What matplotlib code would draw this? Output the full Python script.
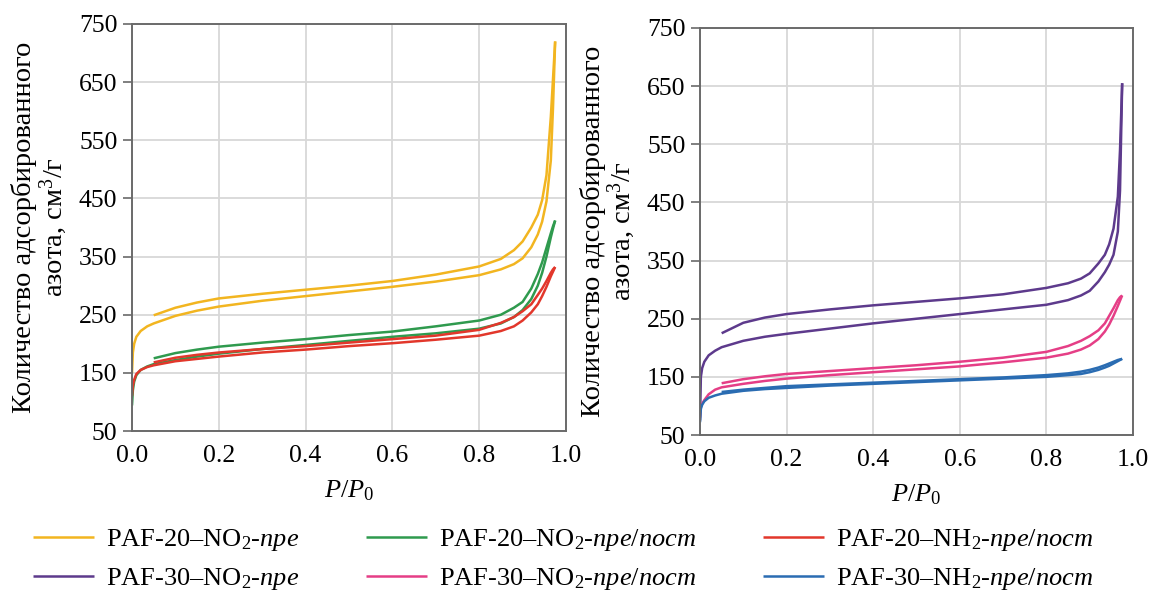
import matplotlib
matplotlib.use("Agg")
import matplotlib.pyplot as plt
import numpy as np

plt.rcParams['font.family'] = ['Liberation Serif', 'DejaVu Serif']
plt.rcParams['mathtext.fontset'] = 'custom'
plt.rcParams['mathtext.rm'] = 'Liberation Serif'
plt.rcParams['mathtext.it'] = 'Liberation Serif:italic'

# relative pressure grids (adsorption goes up, desorption comes back down)
ads_p = [0.0, 0.002, 0.005, 0.01, 0.02, 0.035, 0.05, 0.1, 0.15, 0.2, 0.3, 0.4, 0.5, 0.6,
         0.7, 0.8, 0.85, 0.88, 0.9, 0.92, 0.935, 0.945, 0.955, 0.965, 0.97, 0.975]
des_p = [0.975, 0.97, 0.965, 0.955, 0.945, 0.935, 0.92, 0.9, 0.88, 0.85, 0.8, 0.7, 0.6,
         0.5, 0.4, 0.3, 0.2, 0.15, 0.1, 0.05]

# PAF-20 panel
paf20_no2_pre_ads = [150, 185, 200, 212, 222, 230, 235, 248, 257, 264, 274, 282, 290, 298,
                     307, 318, 328, 337, 347, 366, 388, 410, 445, 515, 605, 720]
paf20_no2_pre_des = [720, 655, 590, 490, 447, 422, 400, 376, 361, 346, 333, 319, 308,
                     300, 293, 286, 278, 271, 262, 249]
paf20_no2_pp_ads = [94, 120, 135, 146, 155, 161, 165, 172, 178, 183, 191, 198, 205, 212,
                    218, 226, 235, 246, 258, 277, 300, 322, 350, 383, 398, 412]
paf20_no2_pp_des = [412, 402, 390, 365, 340, 320, 295, 272, 262, 250, 240, 230, 221,
                    215, 208, 202, 195, 190, 184, 175]
paf20_nh2_pp_ads = [110, 128, 138, 148, 155, 160, 163, 170, 174, 178, 185, 190, 196, 201,
                    207, 214, 222, 230, 240, 254, 268, 282, 298, 316, 324, 332]
paf20_nh2_pp_des = [332, 328, 322, 308, 295, 284, 268, 256, 246, 236, 224, 214, 208,
                    202, 196, 191, 185, 181, 176, 168]

# PAF-30 panel
paf30_no2_pre_ads = [75, 150, 165, 176, 187, 195, 201, 212, 219, 224, 233, 242, 250, 258,
                     266, 274, 282, 290, 298, 314, 330, 343, 360, 400, 470, 655]
paf30_no2_pre_des = [655, 540, 460, 405, 378, 360, 345, 328, 319, 311, 303, 292, 285,
                     279, 273, 266, 258, 252, 243, 225]
paf30_no2_pp_ads = [80, 98, 104, 110, 120, 128, 132, 138, 143, 147, 153, 158, 163, 168,
                    175, 183, 190, 197, 204, 215, 228, 240, 255, 272, 281, 290]
paf30_no2_pp_des = [290, 287, 282, 268, 255, 242, 230, 220, 212, 203, 193, 183, 176,
                    170, 165, 160, 155, 151, 146, 139]
paf30_nh2_pp_ads = [72, 95, 102, 108, 114, 118, 121, 126, 129, 131, 135, 138, 141, 144,
                    147, 150, 153, 155, 158, 162, 166, 169, 173, 177, 179, 181]
paf30_nh2_pp_des = [181, 180, 179, 176, 173, 170, 166, 162, 159, 156, 153, 149, 146,
                    143, 140, 137, 134, 131, 128, 124]

labels = ['PAF-20–NO$_2$-$\\mathit{пре}$',
          'PAF-30–NO$_2$-$\\mathit{пре}$',
          'PAF-20–NO$_2$-$\\mathit{пре/пост}$',
          'PAF-30–NO$_2$-$\\mathit{пре/пост}$',
          'PAF-20–NH$_2$-$\\mathit{пре/пост}$',
          'PAF-30–NH$_2$-$\\mathit{пре/пост}$']
colors = {'y': '#f2b520', 'g': '#2f9a4e', 'r': '#e2372b',
          'p': '#5d3a8c', 'm': '#e53e86', 'b': '#2a6cb2'}

fig = plt.figure(figsize=(11.56, 5.96), dpi=100)
ax1 = fig.add_axes([132 / 1156, 1 - 431 / 596, 434 / 1156, 407 / 596])
ax2 = fig.add_axes([700 / 1156, 1 - 435 / 596, 433 / 1156, 407 / 596])

lw = 1.8
h = {}
for ax, series in [(ax1, [('y', paf20_no2_pre_ads, paf20_no2_pre_des),
                          ('g', paf20_no2_pp_ads, paf20_no2_pp_des),
                          ('r', paf20_nh2_pp_ads, paf20_nh2_pp_des)]),
                   (ax2, [('p', paf30_no2_pre_ads, paf30_no2_pre_des),
                          ('m', paf30_no2_pp_ads, paf30_no2_pp_des),
                          ('b', paf30_nh2_pp_ads, paf30_nh2_pp_des)])]:
    for key, ads, des in series:
        h[key], = ax.plot(ads_p, ads, color=colors[key], lw=lw, solid_capstyle='butt')
        ax.plot(des_p, des, color=colors[key], lw=lw, solid_capstyle='butt')

    ax.set_xlim(0, 1)
    ax.set_ylim(50, 750)
    ax.set_xticks([0, 0.2, 0.4, 0.6, 0.8, 1.0])
    ax.set_xticklabels(['0.0', '0.2', '0.4', '0.6', '0.8', '1.0'])
    ax.set_yticks(range(50, 751, 100))
    ax.grid(True, color='#d8d8d8', lw=1.3)
    ax.set_axisbelow(True)
    for s in ax.spines.values():
        s.set_color('#6a6a6a')
        s.set_linewidth(1.4)
    ax.tick_params(axis='y', length=6.5, width=1.2, color='#6a6a6a', labelsize=18.5, pad=4)
    ax.tick_params(axis='x', length=0, labelsize=18.5, pad=10)
    ax.set_xlabel('$P/P_0$', fontsize=19, labelpad=8)
    ax.set_ylabel('Количество адсорбированного\nазота, см$^3$/г', fontsize=20.5,
                  linespacing=1.0)
    ax.yaxis.set_label_coords(-0.145, 0.5)

handles = [h['y'], h['p'], h['g'], h['m'], h['r'], h['b']]
fig.legend(handles, labels, ncol=3, loc='upper left', bbox_to_anchor=(33 / 1156, 1 - 527 / 596),
           frameon=False, fontsize=19, handlelength=2.3, handletextpad=0.45,
           columnspacing=2.55, labelspacing=0.5, borderpad=0, borderaxespad=0)

fig.savefig('out.png', dpi=100)
